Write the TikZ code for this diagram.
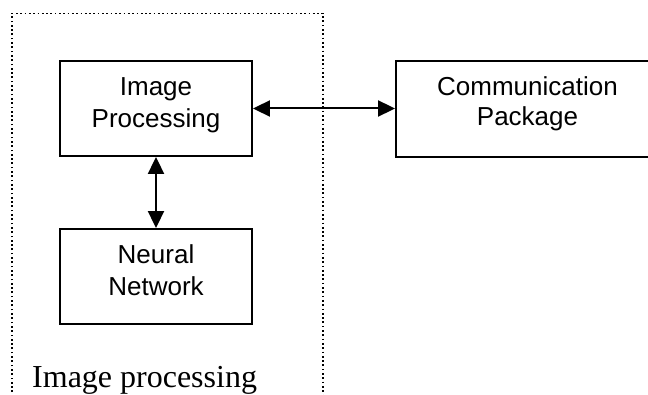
\documentclass[tikz,border=0pt]{standalone}
\usepackage{fontspec}
\setmainfont{Liberation Serif}
\newfontfamily\arialf{Liberation Sans}
\usetikzlibrary{arrows.meta}
\begin{document}
\begin{tikzpicture}[x=1pt,y=-1pt,
  box/.style={draw, line width=1.9pt, rectangle, inner sep=0pt},
  txt/.style={font=\arialf\fontsize{26}{31}\selectfont, inner sep=0pt, anchor=base},
  conn/.style={line width=2pt, {Triangle[length=17pt,width=16pt]}-{Triangle[length=17pt,width=16pt]}},
  group/.style={line width=1.7pt, dash pattern=on 1.7pt off 2.6pt},
  grouplabel/.style={font=\fontsize{32}{37}\selectfont, inner sep=0pt, anchor=base west}
]
\clip (0,0) rectangle (648,395);
\fill[white] (0,0) rectangle (648,395);
\draw[group] (12,405) -- (12,13.5) -- (323,13.5) -- (323,405);
\node[box, minimum width=192pt, minimum height=95pt] (ip) at (156,108.5) {};
\node[box, minimum width=192pt, minimum height=95pt] (nn) at (156,276.5) {};
\node[box, minimum width=263pt, minimum height=96pt] (cp) at (527.5,109) {};
\node[txt] (ipa) at (156,96) {Image};
\node[txt] (ipb) at (156,127.5) {Processing};
\node[txt] (nna) at (156,264) {Neural};
\node[txt] (nnb) at (156,295.5) {Network};
\node[txt] (cpa) at (527.5,96) {Communication};
\node[txt] (cpb) at (527.5,126) {Package};
\node[grouplabel] (gl) at (32,387) {Image processing};
\draw[conn] (ip.east) -- (ip.east -| cp.west);
\draw[conn] (ip.south) -- (nn.north);
\end{tikzpicture}
\end{document}
